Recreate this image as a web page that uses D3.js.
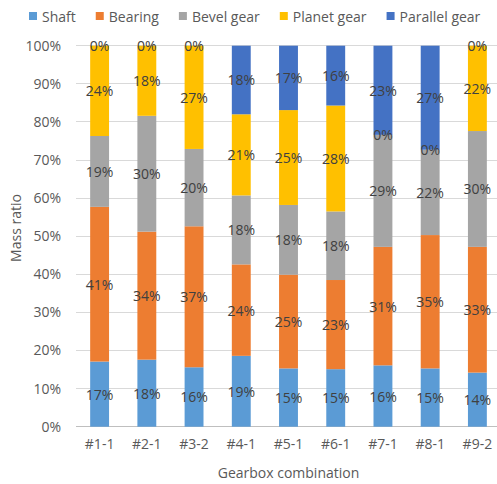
<!DOCTYPE html>
<html>
<head>
<meta charset="utf-8">
<script src="https://cdn.jsdelivr.net/npm/d3@7"></script>
<style>
  html, body { margin: 0; padding: 0; background: #fff; }
  svg { display: block; font-family: "Open Sans", sans-serif; }
</style>
</head>
<body>
<svg id="chart" width="497" height="484"></svg>
<script>
// Gearbox combinations and mass share (%) of each component group
const categories = ["#1-1", "#2-1", "#3-2", "#4-1", "#5-1", "#6-1", "#7-1", "#8-1", "#9-2"];
const seriesNames = ["Shaft", "Bearing", "Bevel gear", "Planet gear", "Parallel gear"];
const shaft    = [17.1, 17.6, 15.6, 18.6, 15.3, 15.1, 16.1, 15.3, 14.2];
const bearing  = [40.6, 33.6, 37.0, 24.0, 24.6, 23.4, 31.1, 35.0, 33.0];
const bevel    = [18.6, 30.4, 20.3, 18.1, 18.3, 18.0, 29.4, 22.4, 30.4];
const planet   = [23.7, 18.4, 27.1, 21.3, 24.9, 27.8, 0.0, 0.0, 22.4];
const parallel = [0.0, 0.0, 0.0, 18.0, 16.9, 15.7, 23.4, 27.3, 0.0];
const yTicks = [0, 10, 20, 30, 40, 50, 60, 70, 80, 90, 100];
const colors = ["#5B9BD5", "#ED7D31", "#A5A5A5", "#FFC000", "#4472C4"];

const seriesValues = [shaft, bearing, bevel, planet, parallel];
const rows = categories.map((c, i) => {
  const r = { cat: c };
  seriesNames.forEach((s, k) => { r[s] = seriesValues[k][i]; });
  return r;
});

const svg = d3.select("#chart");
const plot = { left: 76, right: 501, top: 45.7, bottom: 426.7 };

const x = d3.scaleBand().domain(categories)
  .range([plot.left, plot.right]).paddingInner(0.6).paddingOuter(0.3);
const y = d3.scaleLinear().domain([0, 100]).range([plot.bottom, plot.top]);

// Horizontal gridlines
svg.append("g").selectAll("line").data(yTicks).join("line")
  .attr("x1", plot.left).attr("x2", 497)
  .attr("y1", d => y(d)).attr("y2", d => y(d))
  .attr("stroke", d => d === 0 ? "#BFBFBF" : "#D9D9D9")
  .attr("stroke-width", 1)
  .attr("shape-rendering", "crispEdges");

// Y axis tick labels
const yAxis = d3.axisLeft(y).tickValues(yTicks).tickFormat(d => d + "%").tickSize(0).tickPadding(0);
const gy = svg.append("g").attr("transform", `translate(${plot.left - 15},0)`).call(yAxis);
gy.select(".domain").remove();
gy.selectAll("text").attr("fill", "#595959").attr("font-size", 14)
  .attr("font-family", "Open Sans, sans-serif");

// X axis category labels
const xAxis = d3.axisBottom(x).tickSize(0).tickPadding(0);
const gx = svg.append("g").attr("transform", `translate(0,${plot.bottom + 12})`).call(xAxis);
gx.select(".domain").remove();
gx.selectAll("text").attr("fill", "#595959").attr("font-size", 14)
  .attr("font-family", "Open Sans, sans-serif");

// Stacked bars
const stack = d3.stack().keys(seriesNames);
const stacked = stack(rows);

const layers = svg.append("g").selectAll("g").data(stacked).join("g")
  .attr("fill", (d, i) => colors[i]);
layers.selectAll("rect").data(d => d).join("rect")
  .attr("x", d => x(d.data.cat))
  .attr("width", x.bandwidth())
  .attr("y", d => y(d[1]))
  .attr("height", d => y(d[0]) - y(d[1]));

// Value labels centred on each segment (zero segments sit on their boundary)
const labels = svg.append("g");
stacked.forEach(layer => {
  layer.forEach(d => {
    const v = d[1] - d[0];
    labels.append("text")
      .attr("x", x(d.data.cat) + x.bandwidth() / 2)
      .attr("y", y((d[0] + d[1]) / 2))
      .attr("text-anchor", "middle")
      .attr("dominant-baseline", "central")
      .attr("font-size", 14)
      .attr("fill", "#404040")
      .text(Math.round(v) + "%");
  });
});

// Axis titles
svg.append("text")
  .attr("x", (plot.left + plot.right) / 2).attr("y", 472)
  .attr("text-anchor", "middle").attr("dominant-baseline", "central")
  .attr("font-size", 14).attr("fill", "#595959")
  .text("Gearbox combination");
svg.append("text")
  .attr("transform", "translate(15,228) rotate(-90)")
  .attr("text-anchor", "middle").attr("dominant-baseline", "central")
  .attr("font-size", 14).attr("fill", "#595959")
  .text("Mass ratio");

// Legend
const legend = svg.append("g");
let lx = 29;
seriesNames.forEach((name, i) => {
  const g = legend.append("g").attr("transform", `translate(${lx},0)`);
  g.append("rect").attr("x", 0).attr("y", 12).attr("width", 8).attr("height", 8).attr("fill", colors[i]);
  const t = g.append("text").attr("x", 13).attr("y", 16)
    .attr("dominant-baseline", "central").attr("font-size", 14).attr("fill", "#595959")
    .text(name);
  lx += 13 + t.node().getComputedTextLength() + 20;
});
</script>
</body>
</html>
